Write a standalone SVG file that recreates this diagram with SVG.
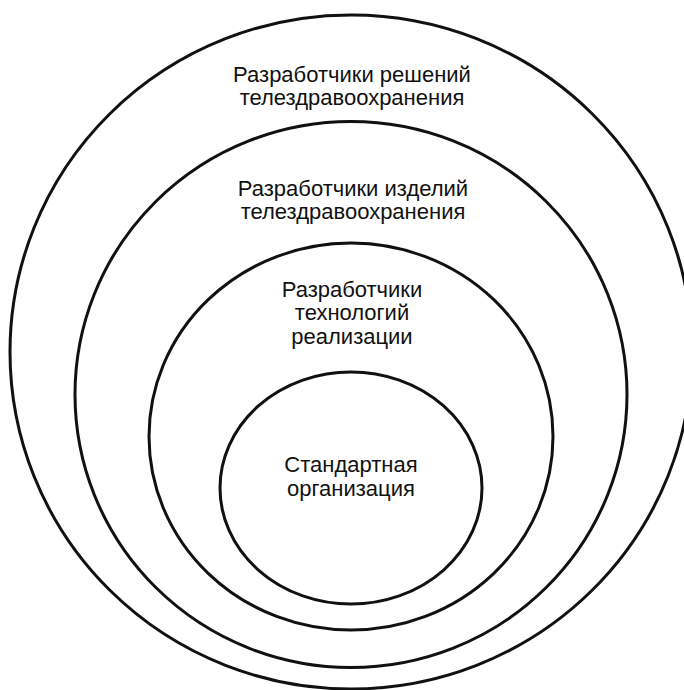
<svg xmlns="http://www.w3.org/2000/svg" width="684" height="690" viewBox="0 0 684 690">
<style>
.ring{fill:none;stroke:#111;stroke-width:3}
.lbl{font-family:"Liberation Sans",Arial,sans-serif;font-size:22px;fill:#111;text-anchor:middle}
</style>
<rect width="684" height="690" fill="#fff"/>
<g id="outer">
<ellipse class="ring" cx="351" cy="352" rx="341" ry="337"/>
<text class="lbl" x="352" y="82">Разработчики решений</text>
<text class="lbl" x="352" y="105">телездравоохранения</text>
</g>
<g id="products">
<ellipse class="ring" cx="351" cy="394.5" rx="276" ry="273"/>
<text class="lbl" x="353" y="196">Разработчики изделий</text>
<text class="lbl" x="353" y="219">телездравоохранения</text>
</g>
<g id="tech">
<ellipse class="ring" cx="351" cy="436.5" rx="202" ry="193.5"/>
<text class="lbl" x="352" y="297">Разработчики</text>
<text class="lbl" x="352" y="320">технологий</text>
<text class="lbl" x="352" y="344">реализации</text>
</g>
<g id="sdo">
<ellipse class="ring" cx="351" cy="488" rx="131" ry="116"/>
<text class="lbl" x="351" y="472">Стандартная</text>
<text class="lbl" x="351" y="496">организация</text>
</g>
<g id="connectors"></g>
</svg>
